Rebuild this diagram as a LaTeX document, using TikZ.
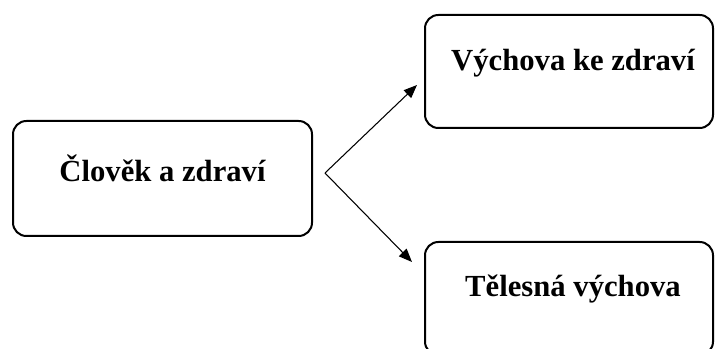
\documentclass[tikz,border=0pt]{standalone}
\usepackage{fontspec}
\setmainfont{Liberation Serif}
\usetikzlibrary{positioning,arrows.meta}

\tikzset{
  box/.style={draw, line width=1.5pt, rounded corners=10pt, inner sep=0pt},
  boxtext/.style={font=\bfseries\fontsize{23}{26}\selectfont, inner sep=0pt},
  link/.style={line width=0.8pt, -{Triangle[length=10pt,width=8pt]}},
}

\begin{document}
\begin{tikzpicture}[x=0.75pt,y=0.75pt,yscale=-1,xscale=1]
%set diagram area 715 x 349
\clip (0,0) rectangle (715,349);

%Shape: Rounded Rect [id:clovek]
\node [box, minimum width=224.25pt, minimum height=86.25pt] (clovek) at (162.5,178.5) {};
%Shape: Rounded Rect [id:vychova]
\node [box, minimum width=216pt, minimum height=84.75pt] (vychova) at (569,71.5) {};
%Shape: Rounded Rect [id:telesna]
\node [box, minimum width=216pt, minimum height=84.75pt] (telesna) at (569,298.5) {};

% Text Node
\node [boxtext] (clovektext) at ([yshift=-7.5pt]clovek.center) {Člověk a zdraví};
% Text Node
\node [boxtext] (vychovatext) at ([xshift=3pt,yshift=-6.5pt]vychova.center) {Výchova ke zdraví};
% Text Node
\node [boxtext] (telesnatext) at ([xshift=3pt,yshift=-7.5pt]telesna.center) {Tělesná výchova};

%Straight Lines [id:fork]
\coordinate (fork) at (325,173);
\coordinate (vychovaend) at (417,85);
\coordinate (telesnaend) at (412,262);
\draw [link] (fork) -- (vychovaend);
\draw [link] (fork) -- (telesnaend);

\end{tikzpicture}
\end{document}
